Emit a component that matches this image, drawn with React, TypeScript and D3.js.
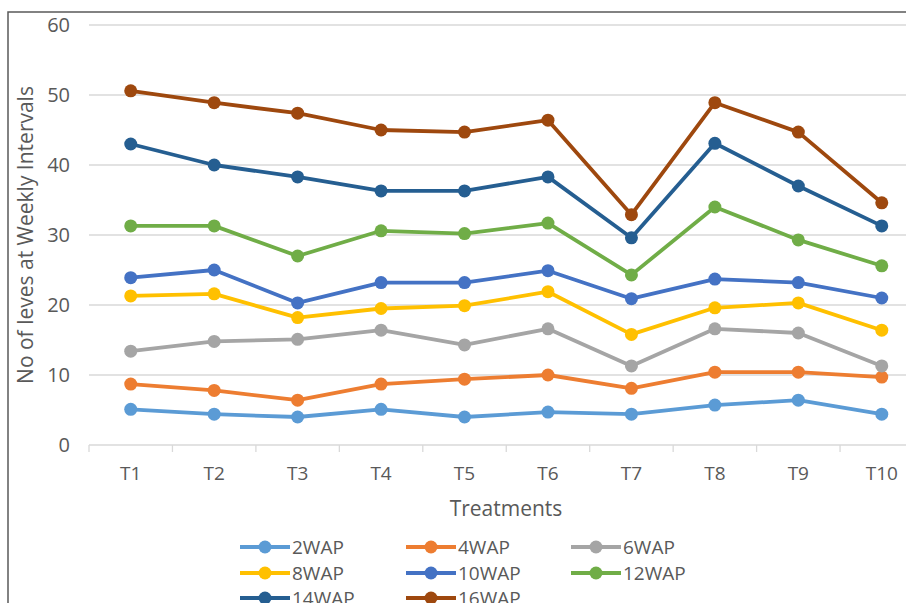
import React from "react";
import * as d3 from "d3";

const categories = ["T1", "T2", "T3", "T4", "T5", "T6", "T7", "T8", "T9", "T10"];
const seriesNames = ["2WAP", "4WAP", "6WAP", "8WAP", "10WAP", "12WAP", "14WAP", "16WAP"];
const seriesColors = ["#5B9BD5", "#ED7D31", "#A5A5A5", "#FFC000", "#4472C4", "#70AD47", "#255E91", "#9E480E"];
const wap2 = [5.1, 4.4, 4.0, 5.1, 4.0, 4.7, 4.4, 5.7, 6.4, 4.4];
const wap4 = [8.7, 7.8, 6.4, 8.7, 9.4, 10.0, 8.1, 10.4, 10.4, 9.7];
const wap6 = [13.4, 14.8, 15.1, 16.4, 14.3, 16.6, 11.3, 16.6, 16.0, 11.3];
const wap8 = [21.3, 21.6, 18.2, 19.5, 19.9, 21.9, 15.8, 19.6, 20.3, 16.4];
const wap10 = [23.9, 25.0, 20.3, 23.2, 23.2, 24.9, 20.9, 23.7, 23.2, 21.0];
const wap12 = [31.3, 31.3, 27.0, 30.6, 30.2, 31.7, 24.3, 34.0, 29.3, 25.6];
const wap14 = [43.0, 40.0, 38.3, 36.3, 36.3, 38.3, 29.6, 43.1, 37.0, 31.3];
const wap16 = [50.6, 48.9, 47.4, 45.0, 44.7, 46.4, 32.9, 48.9, 44.7, 34.6];
const seriesValues = [wap2, wap4, wap6, wap8, wap10, wap12, wap14, wap16];
const yTicks = [0, 10, 20, 30, 40, 50, 60];

const FONT = "'Open Sans', 'Noto Sans', sans-serif";
const TEXT = "#595959";

export default function App() {
  const W = 906, H = 603;
  const left = 89, right = 923.5, top = 25, bottom = 445;
  const x = d3.scaleBand<string>().domain(categories).range([left, right]);
  const y = d3.scaleLinear().domain([0, 60]).range([bottom, top]);
  const line = d3
    .line<number>()
    .x((_, i) => (x(categories[i]) as number) + x.bandwidth() / 2)
    .y((d) => y(d));
  const boundaries = d3.range(categories.length + 1).map((i) => left + i * x.bandwidth());
  const legendCols = [240, 406, 571];
  const legendRows = [547, 573, 598];

  return (
    <svg
      width={W}
      height={H}
      style={{ position: "absolute", left: 0, top: 0, background: "#fff" }}
      fontFamily={FONT}
    >
      <rect x={8} y={12} width={W + 20} height={H + 20} fill="#fff" stroke="#595959" strokeWidth={1.5} />
      {yTicks.slice(1).map((t) => (
        <line key={t} x1={left} x2={W} y1={y(t)} y2={y(t)} stroke="#D9D9D9" strokeWidth={1.3} />
      ))}
      <line x1={left} x2={W} y1={bottom} y2={bottom} stroke="#D9D9D9" strokeWidth={1.3} />
      {boundaries.map((b, i) => (
        <line key={i} x1={b} x2={b} y1={bottom} y2={bottom + 7} stroke="#D9D9D9" strokeWidth={1.3} />
      ))}
      {yTicks.map((t) => (
        <text key={t} x={70} y={y(t)} dy="0.36em" textAnchor="end" fontSize={20} fill={TEXT}>
          {t}
        </text>
      ))}
      {categories.map((c) => (
        <text
          key={c}
          x={(x(c) as number) + x.bandwidth() / 2}
          y={480}
          textAnchor="middle"
          fontSize={19}
          fill={TEXT}
        >
          {c}
        </text>
      ))}
      <text x={506} y={516} textAnchor="middle" fontSize={21} fill={TEXT}>
        Treatments
      </text>
      <text
        transform={`translate(33, 235) rotate(-90)`}
        textAnchor="middle"
        fontSize={21}
        fill={TEXT}
      >
        No of leves at Weekly Intervals
      </text>
      {seriesValues.map((vals, si) => (
        <g key={si}>
          <path d={line(vals) as string} fill="none" stroke={seriesColors[si]} strokeWidth={3.8} strokeLinejoin="round" />
          {vals.map((v, i) => (
            <circle
              key={i}
              cx={(x(categories[i]) as number) + x.bandwidth() / 2}
              cy={y(v)}
              r={6.5}
              fill={seriesColors[si]}
            />
          ))}
        </g>
      ))}
      {seriesNames.map((n, i) => {
        const lx = legendCols[i % 3];
        const ly = legendRows[Math.floor(i / 3)];
        return (
          <g key={n}>
            <line x1={lx} x2={lx + 50} y1={ly} y2={ly} stroke={seriesColors[i]} strokeWidth={3.8} />
            <circle cx={lx + 25} cy={ly} r={6.5} fill={seriesColors[i]} />
            <text x={lx + 52} y={ly} dy="0.36em" fontSize={19} fill={TEXT}>
              {n}
            </text>
          </g>
        );
      })}
    </svg>
  );
}
